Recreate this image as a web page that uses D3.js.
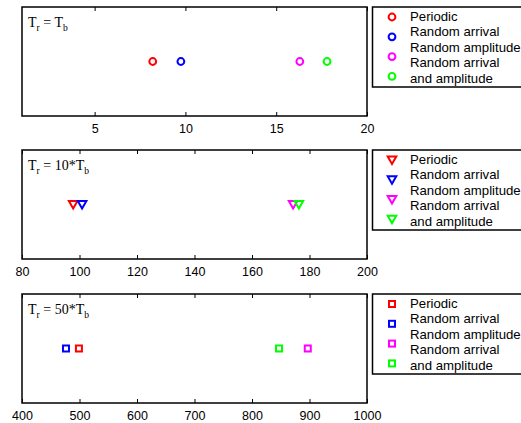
<!DOCTYPE html>
<html>
<head>
<meta charset="utf-8">
<script src="https://cdn.jsdelivr.net/npm/d3@7"></script>
<style>
  body { margin: 0; background: #fff; }
  svg { display: block; }
  .tick text { font-family: "Liberation Sans", Arial, sans-serif; font-size: 12.5px; }
</style>
</head>
<body>
<svg id="chart" width="521" height="423"></svg>
<script>
// series names & colors
var seriesNames = ['Periodic', 'Random arrival', 'Random amplitude', 'Random arrival and amplitude'];
var seriesColors = ['#ff0000', '#0000ff', '#ff00ff', '#00ff00'];
var legendLines = ['Periodic', 'Random arrival', 'Random amplitude', 'Random arrival', 'and amplitude'];

// values (x position of each marker)
var valuesTb = [8.2, 9.75, 16.3, 17.8];
var values10Tb = [97.8, 100.9, 174.3, 176.3];
var values50Tb = [499, 476.5, 897, 847];

var domainTb = [1, 20], ticksTb = [5, 10, 15, 20];
var domain10Tb = [80, 200], ticks10Tb = [80, 100, 120, 140, 160, 180, 200];
var domain50Tb = [400, 1000], ticks50Tb = [400, 500, 600, 700, 800, 900, 1000];

var panels = [
  { top: 7, values: valuesTb, domain: domainTb, ticks: ticksTb, marker: 'circle', factor: '' },
  { top: 150, values: values10Tb, domain: domain10Tb, ticks: ticks10Tb, marker: 'triangle', factor: '10*' },
  { top: 294, values: values50Tb, domain: domain50Tb, ticks: ticks50Tb, marker: 'square', factor: '50*' }
];

var svg = d3.select('#chart');
var left = 22, right = 367, plotH = 109;

function drawMarker(g, type, color, x, y) {
  if (type === 'circle') {
    g.append('circle').attr('cx', x).attr('cy', y).attr('r', 3.4)
      .attr('fill', 'none').attr('stroke', color).attr('stroke-width', 2);
  } else if (type === 'triangle') {
    g.append('path')
      .attr('d', 'M' + (x - 4.3) + ',' + (y - 3.6) + 'L' + (x + 4.3) + ',' + (y - 3.6) + 'L' + x + ',' + (y + 3.9) + 'Z')
      .attr('fill', 'none').attr('stroke', color).attr('stroke-width', 2);
  } else {
    g.append('rect').attr('x', x - 3).attr('y', y - 3).attr('width', 6).attr('height', 6)
      .attr('fill', 'none').attr('stroke', color).attr('stroke-width', 2);
  }
}

panels.forEach(function (p) {
  var g = svg.append('g').attr('transform', 'translate(0,' + p.top + ')');
  var x = d3.scaleLinear().domain(p.domain).range([left, right]);
  var cy = 54.5;

  // bottom axis, inward ticks
  var bottom = g.append('g').attr('transform', 'translate(0,' + plotH + ')')
    .call(d3.axisBottom(x).tickValues(p.ticks).tickFormat(d3.format('d'))
      .tickSizeInner(-4).tickSizeOuter(0).tickPadding(8));
  bottom.select('.domain').remove();
  bottom.selectAll('.tick line').attr('stroke', '#000');
  bottom.selectAll('.tick text').attr('fill', '#000');

  // top ticks
  var top = g.append('g')
    .call(d3.axisTop(x).tickValues(p.ticks).tickSizeInner(-4).tickSizeOuter(0).tickFormat(''));
  top.select('.domain').remove();

  g.append('rect').attr('x', left).attr('y', 0).attr('width', right - left).attr('height', plotH)
    .attr('fill', 'none').attr('stroke', '#000').attr('stroke-width', 1.5);

  // annotation
  var t = g.append('text').attr('x', 28).attr('y', 19.5)
    .attr('font-family', '"Liberation Serif", "Times New Roman", serif').attr('font-size', 14);
  t.append('tspan').text('T');
  t.append('tspan').attr('dy', 4.5).attr('font-size', 9.5).text('r');
  t.append('tspan').attr('dy', -4.5).text(' = ' + p.factor + 'T');
  t.append('tspan').attr('dy', 4.5).attr('font-size', 9.5).text('b');

  // markers
  p.values.forEach(function (v, i) {
    drawMarker(g, p.marker, seriesColors[i], x(v), cy);
  });

  // legend
  var lg = g.append('g');
  lg.append('rect').attr('x', 372.5).attr('y', 0).attr('width', 160).attr('height', 80)
    .attr('fill', '#fff').attr('stroke', '#000').attr('stroke-width', 1.5);
  seriesNames.forEach(function (name, i) {
    drawMarker(lg, p.marker, seriesColors[i], 392, 10 + i * 19.8);
  });
  legendLines.forEach(function (line, i) {
    lg.append('text').attr('x', 410).attr('y', 13.5 + i * 15.5)
      .attr('font-family', '"Liberation Sans", Arial, sans-serif').attr('font-size', 13.2)
      .text(line);
  });
});
</script>
</body>
</html>
